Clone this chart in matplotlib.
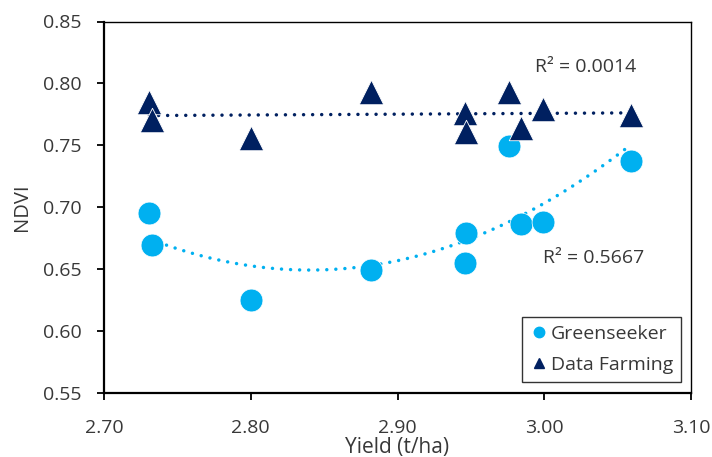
import numpy as np
import matplotlib
matplotlib.use("Agg")
import matplotlib.pyplot as plt
from matplotlib.lines import Line2D

plt.rcParams['font.family'] = ['Open Sans', 'DejaVu Sans']

# Data
gs_yield = [2.731, 2.733, 2.800, 2.882, 2.946, 2.947, 2.984, 2.999, 2.976, 3.059]
gs_ndvi = [0.695, 0.669, 0.625, 0.649, 0.655, 0.679, 0.686, 0.688, 0.749, 0.737]

df_yield = [2.731, 2.733, 2.800, 2.882, 2.946, 2.947, 2.976, 2.984, 2.999, 3.059]
df_ndvi = [0.785, 0.770, 0.756, 0.793, 0.776, 0.761, 0.793, 0.764, 0.779, 0.774]

r2_gs_text = "R\u00b2 = 0.5667"
r2_df_text = "R\u00b2 = 0.0014"

x_ticks = [2.70, 2.80, 2.90, 3.00, 3.10]
y_ticks = [0.55, 0.60, 0.65, 0.70, 0.75, 0.80, 0.85]

light_blue = '#00B0F0'
navy = '#002060'
txt = '#383838'
fs = 14

fig = plt.figure(figsize=(7.12, 4.57), dpi=100)
ax = fig.add_axes([104/712, 1-392.5/457, (691-104)/712, (392.5-21.5)/457])

# trendlines
dotted = (0, (0.01, 2.6))
p2 = np.polyfit(gs_yield, gs_ndvi, 2)
xs = np.linspace(min(gs_yield), max(gs_yield), 200)
ax.plot(xs, np.polyval(p2, xs), color=light_blue, lw=2.5, linestyle=dotted,
        dash_capstyle='round', zorder=2)
p1 = np.polyfit(df_yield, df_ndvi, 1)
xs2 = np.linspace(min(df_yield), max(df_yield), 200)
ax.plot(xs2, np.polyval(p1, xs2), color=navy, lw=2.5, linestyle=dotted,
        dash_capstyle='round', zorder=2)

ax.scatter(gs_yield, gs_ndvi, s=270, marker='o', color=light_blue,
           edgecolors='white', linewidths=0.5, zorder=3)
ax.scatter(df_yield, df_ndvi, s=310, marker='^', color=navy,
           edgecolors='white', linewidths=0.6, zorder=4)

ax.set_xlim(2.70, 3.10)
ax.set_ylim(0.55, 0.85)
ax.set_xticks(x_ticks)
ax.set_xticklabels([f"{v:.2f}" for v in x_ticks])
ax.set_yticks(y_ticks)
ax.set_yticklabels([f"{v:.2f}" for v in y_ticks])
ax.tick_params(direction='out', length=5, width=1.3, colors='black',
               labelcolor=txt, labelsize=fs)
ax.tick_params(axis='y', pad=11)
ax.tick_params(axis='x', pad=14)

for s in ['left', 'bottom']:
    ax.spines[s].set_linewidth(1.6)
for s in ['top', 'right']:
    ax.spines[s].set_linewidth(1.0)

ax.set_xlabel("Yield (t/ha)", fontsize=15, color=txt)
ax.set_ylabel("NDVI", fontsize=14.5, color=txt)
ax.xaxis.set_label_coords(0.5, -(453 - 392.5) / 371)
ax.xaxis.label.set_va('baseline')
ax.yaxis.set_label_coords(-(104 - 22) / 587, 0.5)
ax.yaxis.label.set_va('center')

ax.text(2.994, 0.8094, r2_df_text, fontsize=fs, color=txt, va='baseline', ha='left')
ax.text(2.999, 0.655, r2_gs_text, fontsize=fs, color=txt, va='baseline', ha='left')

handles = [
    Line2D([], [], marker='o', color=light_blue, linestyle='none', markersize=7.5),
    Line2D([], [], marker='^', color=navy, linestyle='none', markersize=7.5),
]
leg = ax.legend(handles, ['Greenseeker', 'Data Farming'], loc='lower right',
                bbox_to_anchor=(1 - (691 - 681) / 587, (392.5 - 382) / 371),
                fontsize=fs, frameon=True,
                fancybox=False, edgecolor='black', handletextpad=0.1,
                handlelength=1.0, borderpad=0.4, labelspacing=0.7,
                borderaxespad=0)
leg.get_frame().set_linewidth(1.0)
for t in leg.get_texts():
    t.set_color(txt)

fig.savefig("out.png", dpi=100)
